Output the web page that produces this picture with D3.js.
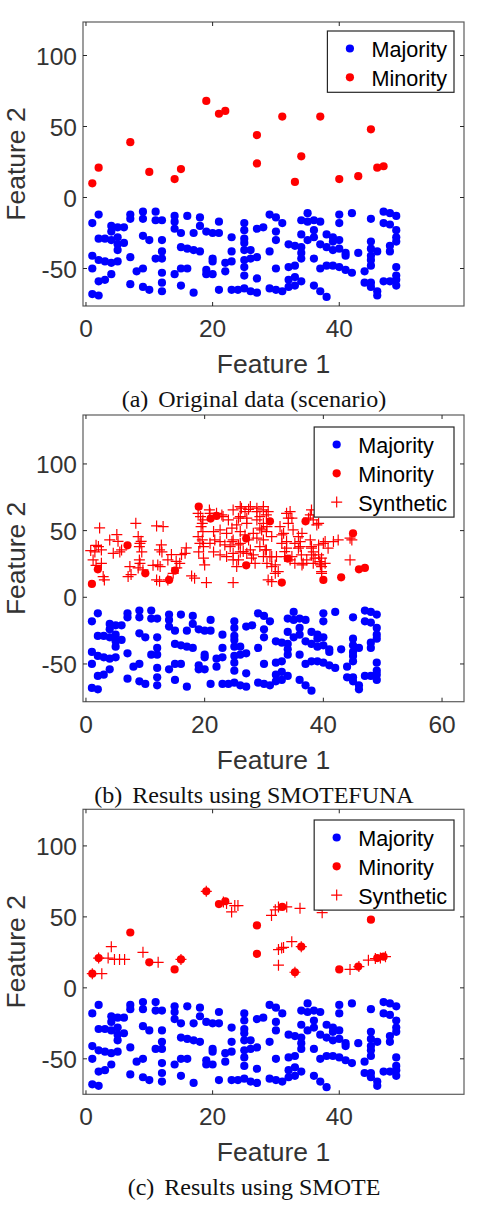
<!DOCTYPE html>
<html>
<head>
<meta charset="utf-8">
<script src="https://cdn.jsdelivr.net/npm/d3@7/dist/d3.min.js"></script>
<style>
  body { margin: 0; background: #fff; }
  svg { display: block; }
</style>
</head>
<body>
<svg id="chart" width="480" height="1211"></svg>
<script>
// majority class (same in all three panels)
const majority = [
  [1,-18],[1,-41],[1,-50],[1,-68],
  [2,-12],[2,-29],[2,-44],[2,-59],[2,-69],
  [3,-29],[3,-45],[3,-58],
  [4,-20],[4,-24],[4,-30],[4,-46],[4,-54],
  [5,-21],[5,-28],[5,-33],[5,-37],[5,-45],
  [6,-21],[6,-32],
  [7,-12],[7,-15],[7,-42],[7,-61],
  [8,-52],
  [9,-10],[9,-15],[9,-27],[9,-50],[9,-63],
  [10,-30],[10,-65],
  [11,-10],[11,-16],[11,-43],
  [12,-16],[12,-30],[12,-38],[12,-43],[12,-53],[12,-60],[12,-66],
  [14,-13],[14,-17],[14,-22],[14,-54],
  [15,-25],[15,-35],[15,-50],[15,-62],
  [16,-13],[16,-36],[16,-50],
  [17,-25],[17,-37],[17,-67],
  [18,-14],[18,-20],[18,-38],
  [19,-24],[19,-51],[19,-54],
  [20,-25],[20,-43],[20,-45],[20,-54],
  [21,-17],[21,-25],[21,-65],
  [22,-46],[22,-52],
  [23,-28],[23,-38],[23,-45],[23,-65],
  [24,-65],
  [25,-18],[25,-23],[25,-29],[25,-32],[25,-37],[25,-44],[25,-49],[25,-55],[25,-64],
  [26,-37],[26,-43],[26,-66],
  [27,-22],[27,-42],[27,-57],[27,-67],
  [28,-21],
  [29,-12],[29,-38],[29,-64],
  [30,-14],[30,-24],[30,-30],[30,-50],[30,-65],
  [31,-18],[31,-66],
  [32,-33],[32,-49],[32,-58],[32,-63],
  [33,-34],[33,-48],[33,-56],[33,-62],
  [34,-16],[34,-26],[34,-35],[34,-39],[34,-43],[34,-59],
  [35,-11],[35,-17],[35,-30],
  [36,-16],[36,-23],[36,-28],[36,-43],[36,-62],
  [37,-17],[37,-33],[37,-50],[37,-66],
  [38,-26],[38,-35],[38,-48],[38,-70],
  [39,-28],[39,-31],[39,-37],[39,-48],
  [40,-12],[40,-18],[40,-30],[40,-36],[40,-49],
  [41,-39],[41,-41],[41,-51],
  [42,-11],[42,-53],
  [43,-39],
  [44,-52],[44,-60],
  [45,-15],[45,-31],[45,-36],[45,-41],[45,-44],[45,-48],[45,-60],[45,-63],
  [46,-38],[46,-66],[46,-69],
  [47,-10],[47,-18],[47,-59],
  [48,-11],[48,-19],[48,-34],[48,-38],[48,-59],
  [49,-13],[49,-23],[49,-28],[49,-31],[49,-49],[49,-55],[49,-58],[49,-62]
];

// minority class (same in all three panels)
const minority = [
  [1,10],[2,21],[7,39],[10,18],[14,13],[15,20],[19,68],[21,59],[22,61],[27,44],
  [27,24],[31,57],[33,11],[34,29],[37,57],[40,13],[43,15],[45,48],[46,21],[47,22]
];

// synthetic samples from SMOTEFUNA
const syntheticFuna = [
  [0.8,35],[1.5,34],[1.7,39],[2.1,38],[2.3,52],[2.6,35.5],[1.2,28],[1.7,24],[2.6,25.5],[2.9,15.5],
  [3.1,13],[4,43],[5.2,47],[5.4,42],[4.6,33],[5.7,34],[6,35.5],[7.1,15.5],[7.4,23],[7.6,17],
  [8.4,55.5],[8.8,45.5],[9.1,40.5],[9.3,42],[9,38],[9.4,34],[9.1,25.5],[9,28],[8.8,22],[9.6,20.5],
  [11.9,53.5],[13,53],[12.4,35.5],[12.7,39.3],[12.8,34],[11.3,24],[12.1,24.3],[12.5,23],[11.9,13],[12.4,12],
  [13.8,13],[13.8,28],[14.4,32],[14.7,18],[15.2,27],[15.3,22],[15.8,25.5],[16.1,32],[16.7,33],[16.9,37],
  [17.8,16],[18.3,14.3],[20.3,11],
  [18.9,63],[19.7,58],[19.4,53],[19.7,49.3],[18.9,45.5],[19.2,40.5],[19.3,60.5],[19.6,55.5],[19.6,43],[19.8,38],
  [19,34],[19.8,29.3],[20,24.3],
  [20.8,65.5],[22,63],[23.1,60.5],[20.9,63],[22.9,61.8],[21.5,49.3],[22.6,50.5],[23.7,48],[20.9,40.5],[21.7,43],
  [22.6,41.8],[23.4,39.3],[24.3,38],[21.5,34],[22.6,31.8],[23.7,30.5],[24.8,11],
  [24.8,65.5],[26.2,66.8],[27.4,66],[26,60.5],[27.1,59.3],[25.4,54.3],[26,49.3],[26.8,46.8],[24.8,43],[26,40.5],
  [27.4,43],[26,34],[27.1,33],[27.9,29.3],[24.8,28],[25.4,23],
  [28.8,64.3],[29.9,65.5],[30.4,61.8],[28.8,58],[29.9,55.5],[29.3,51.8],[30.4,49.3],[28.8,44.3],[29.9,43],[31.3,45.5],
  [29.3,38],[30.4,35.5],[29.9,30.5],[31.3,30.5],[31.3,23],[31.9,18],[31.3,11.8],
  [32.7,53],[33.3,48],[33,40.5],[33.8,36.8],[33.5,30.5],[34.4,28],[34.4,64.3],[34.1,59.3],[34.9,50.5],[35.8,45.5],
  [36.1,38],[36.3,31.8],[36.6,25.5],[37.8,61.8],[38,65.5],[38.3,58],[38.9,54.3],[37.8,43],[38,38],[38.3,34],
  [38.6,29.3],[39.4,26.8],[39.7,23],[39.7,18],[40,40.5],[40.8,36.8],[41.7,41.8],[42.5,43],[44.8,43],[44.5,28],
  [26,68],[26.8,64.3],[27.7,68],[28.8,66.8],[29.9,68],[30.7,64.3],[24,58],[25.7,59.3],[27.1,55.5],[29.3,60.5],
  [24.6,51.8],[28.2,48],[29.6,50.5],[30.5,53],[33.8,63],[34.7,59.3],[34.1,55.5],[37.5,59.3],[39.2,55.5],[33,46.8],
  [33.8,41.8],[36.4,48],[36.1,41.8],[35.2,40.5],[35.8,36.8],[38,36.8],[39.2,39.3],[38,31.8],[40.3,41.8],[44.5,44.3],
  [24.6,41.8],[25.7,39.3],[26.5,34.3],[24.8,33],[25.7,28],[27.7,35.5],[28.2,31.8],[28.5,25.5],[30.2,35.5],[31,30.5],
  [30.5,25.5],[32.1,30.5],[31.9,24.3],[32.4,19.3],[30.7,13],[33.5,34.3],[34.7,30.5],[35.2,25.5],[36.4,24.3],[37.2,28],
  [38.3,25.5],[39.5,24.3],[39.2,31.8],[39.7,29.3],[40.3,25.5],[39.7,19.3]
];

// synthetic samples from SMOTE
const syntheticSmote = [
  [1,10],[2.5,10],[2,21],[3.5,21],[4,29],[4.5,20],[5.3,20],[6.1,20],[9,25],[11.4,18],
  [15,20],[19,68],[21.7,60.5],[22.2,59.5],[23,53.5],[23.5,58],[24,58],[29.3,51],[29.9,55],[30.4,57],
  [31.7,57],[33.8,56],[37.3,53],[30.4,16],[30.4,27],[30.9,28],[31.2,28.5],[32.5,32.5],[34,29],[33,11],
  [41.7,13],[43.1,15],[44.6,19.5],[45.7,20.6],[46.5,21],[47.3,22]
];

const yTicks = [-50, 0, 50, 100];
const legendNames = ["Majority", "Minority", "Synthetic"];

const panels = [
  { top: 22, bottom: 306, xDomain: [-0.47, 59.7], yDomain: [-76.4, 123.6], xTicks: [0, 20, 40],
    synthetic: null, tag: "(a)", caption: "Original data (scenario)", legendTop: 31 },
  { top: 415, bottom: 701.7, xDomain: [-0.5, 63.7], yDomain: [-78.3, 136.7], xTicks: [0, 20, 40, 60],
    synthetic: syntheticFuna, tag: "(b)", caption: "Results using SMOTEFUNA", legendTop: 427 },
  { top: 809.3, bottom: 1094.3, xDomain: [-0.47, 59.7], yDomain: [-75, 125.8], xTicks: [0, 20, 40],
    synthetic: syntheticSmote, tag: "(c)", caption: "Results using SMOTE", legendTop: 820 }
];

const left = 83, right = 464;
const sans = "'Liberation Sans', Arial, Helvetica, sans-serif";
const serif = "'Liberation Serif', 'Times New Roman', serif";
const axisColor = "#262626";
const dotR = 4.1;

const svg = d3.select("#chart");

function plus(g, x, y, s) {
  g.append("path")
    .attr("d", `M${x - s},${y}H${x + s}M${x},${y - s}V${y + s}`)
    .attr("stroke", "#ff0000")
    .attr("stroke-width", 1.2)
    .attr("fill", "none");
}

panels.forEach(p => {
  const x = d3.scaleLinear().domain(p.xDomain).range([left, right]);
  const y = d3.scaleLinear().domain(p.yDomain).range([p.bottom, p.top]);
  const g = svg.append("g");

  const clipId = "clip" + p.tag.replace(/\W/g, "");
  g.append("clipPath").attr("id", clipId)
    .append("rect").attr("x", left).attr("y", p.top)
    .attr("width", right - left).attr("height", p.bottom - p.top);

  const marks = g.append("g").attr("clip-path", `url(#${clipId})`);

  marks.selectAll(".maj").data(majority).join("circle")
    .attr("cx", d => x(d[0])).attr("cy", d => y(d[1]))
    .attr("r", dotR).attr("fill", "#0000ff");

  marks.selectAll(".min").data(minority).join("circle")
    .attr("class", "min")
    .attr("cx", d => x(d[0])).attr("cy", d => y(d[1]))
    .attr("r", dotR).attr("fill", "#ff0000");

  if (p.synthetic) {
    p.synthetic.forEach(d => plus(marks, x(d[0]), y(d[1]), 5.5));
  }

  // box
  g.append("rect")
    .attr("x", left).attr("y", p.top)
    .attr("width", right - left).attr("height", p.bottom - p.top)
    .attr("fill", "none").attr("stroke", axisColor).attr("stroke-opacity", 0.75).attr("stroke-width", 1.2);

  // ticks (inward, on all four sides)
  const tl = 4;
  p.xTicks.forEach(t => {
    const xx = x(t);
    g.append("path").attr("d", `M${xx},${p.bottom}v${-tl}M${xx},${p.top}v${tl}`)
      .attr("stroke", axisColor).attr("stroke-width", 1);
    g.append("text").attr("x", xx).attr("y", p.bottom + 31)
      .attr("text-anchor", "middle").attr("font-family", sans).attr("font-size", 24.5)
      .attr("fill", "#333").text(t);
  });
  yTicks.forEach(t => {
    const yy = y(t);
    g.append("path").attr("d", `M${left},${yy}h${tl}M${right},${yy}h${-tl}`)
      .attr("stroke", axisColor).attr("stroke-width", 1);
    g.append("text").attr("x", 77).attr("y", yy + 9)
      .attr("text-anchor", "end").attr("font-family", sans).attr("font-size", 24.5)
      .attr("fill", "#333").text(t);
  });

  // axis labels
  g.append("text").attr("x", (left + right) / 2).attr("y", p.bottom + 67)
    .attr("text-anchor", "middle").attr("font-family", sans).attr("font-size", 26.5)
    .attr("fill", "#333").text("Feature 1");
  g.append("text")
    .attr("transform", `translate(25,${(p.top + p.bottom) / 2}) rotate(-90)`)
    .attr("text-anchor", "middle").attr("font-family", sans).attr("font-size", 26.5)
    .attr("fill", "#333").text("Feature 2");

  // caption
  const cap = g.append("text").attr("x", 254).attr("y", p.bottom + 101)
    .attr("text-anchor", "middle").attr("font-family", serif).attr("font-size", 24)
    .attr("fill", "#111");
  cap.append("tspan").text(p.tag);
  cap.append("tspan").attr("dx", 10).text(p.caption);

  // legend
  const names = p.synthetic ? legendNames : legendNames.slice(0, 2);
  const lg = g.append("g");
  const box = lg.append("rect").attr("fill", "#fff").attr("stroke", axisColor).attr("stroke-width", 1.2);
  let maxW = 0;
  const rowY = i => p.legendTop + 17.5 + i * 28.8;
  names.forEach((n, i) => {
    const t = lg.append("text").attr("y", rowY(i) + 8.5)
      .attr("font-family", sans).attr("font-size", 21.6).attr("fill", "#000").text(n);
    maxW = Math.max(maxW, t.node().getComputedTextLength());
  });
  const boxW = 44 + maxW + 7;
  const boxX = 454 - boxW;
  box.attr("x", boxX).attr("y", p.legendTop).attr("width", boxW)
    .attr("height", 17.5 + (names.length - 1) * 28.8 + 15);
  lg.selectAll("text").attr("x", boxX + 44);
  names.forEach((n, i) => {
    const cx = boxX + 22.5;
    if (n === "Synthetic") plus(lg, cx, rowY(i), 5.5);
    else lg.append("circle").attr("cx", cx).attr("cy", rowY(i)).attr("r", dotR)
      .attr("fill", n === "Majority" ? "#0000ff" : "#ff0000");
  });
});
</script>
</body>
</html>
